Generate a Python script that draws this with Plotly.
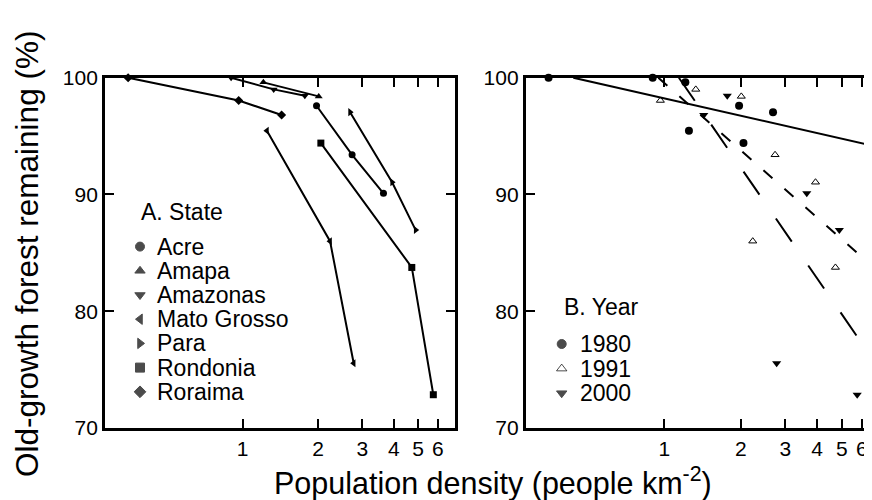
import numpy as np
import plotly.graph_objects as go

# ---------------- data ----------------
states = ["Acre", "Amapa", "Amazonas", "Mato Grosso", "Para", "Rondonia", "Roraima"]
density_1980 = [1.97, 1.21, 0.90, 1.25, 2.68, 2.05, 0.35]
density_1991 = [2.73, 2.01, 1.33, 2.23, 3.94, 4.72, 0.965]
density_2000 = [3.64, None, 1.77, 2.77, 4.89, 5.75, 1.43]
forest_1980 = [97.6, 99.6, 100.0, 95.45, 97.05, 94.4, 100.0]
forest_1991 = [93.4, 98.4, 99.0, 86.0, 91.05, 83.75, 98.05]
forest_2000 = [90.1, None, 98.45, 75.55, 86.95, 72.85, 96.8]
years = ["1980", "1991", "2000"]
x_ticks = [1, 2, 3, 4, 5, 6]
y_ticks = [70, 80, 90, 100]

# ---------------- styles ----------------
PAGE_W, PAGE_H = 872, 500
OFF = 8                      # default body margin of the page
W, H = PAGE_W - OFF, PAGE_H - OFF
FONT = "Liberation Sans, Arial, sans-serif"
state_symbols = ["circle", "triangle-up", "triangle-down", "triangle-left",
                 "triangle-right", "square", "diamond"]
year_symbols = ["circle", "triangle-up-open", "triangle-down"]
year_dash = ["solid", "12px,16px", "28px,29px"]

# pixel geometry of the panels (page pixels)
plot_top, plot_bot = 77.7, 428.0
A_left, A_right = 105.0, 455.0
B_left = 525.7
A_range = [-0.548, 0.846]
B_range = [-0.546, 0.818]

def px(x):
    return (x - OFF) / W

def py(y):
    return 1 - (y - OFF) / H

fig = go.Figure()

# ---------------- panel A: states ----------------
dens = [density_1980, density_1991, density_2000]
fors = [forest_1980, forest_1991, forest_2000]
for i, s in enumerate(states):
    xs = [d[i] for d in dens if d[i] is not None]
    ys = [f[i] for f in fors if f[i] is not None]
    fig.add_trace(go.Scatter(
        x=xs, y=ys, mode="lines+markers", name=s,
        line=dict(color="black", width=2),
        marker=dict(symbol=state_symbols[i], size=7, color="black"),
        cliponaxis=False, showlegend=False, xaxis="x", yaxis="y"))

# ---------------- panel B: years ----------------
for k, yr in enumerate(years):
    xs = [v for v in dens[k] if v is not None]
    ys = [v for v in fors[k] if v is not None]
    b, a = np.polyfit(np.log10(xs), ys, 1)
    x_start = 10 ** ((100 - a) / b)
    x_end = 10 ** A_range[1]
    lx = np.array([x_start, x_end])
    fig.add_trace(go.Scatter(
        x=lx, y=a + b * np.log10(lx), mode="lines",
        line=dict(color="black", width=2, dash=year_dash[k]),
        showlegend=False, xaxis="x2", yaxis="y2", hoverinfo="skip"))
    mk = dict(symbol=year_symbols[k], size=8 if k != 1 else 7, color="black")
    if k == 1:
        mk["line"] = dict(color="black", width=1)
    fig.add_trace(go.Scatter(
        x=xs, y=ys, mode="markers", name=yr, marker=mk,
        cliponaxis=False, showlegend=False, xaxis="x2", yaxis="y2"))

# ---------------- legends (pixel overlay) ----------------
A_leg_x, A_leg_title_y, A_leg_y0, A_leg_dy = 140.0, 211.7, 246.6, 24.2
B_leg_x, B_leg_title_y, B_leg_y0, B_leg_dy = 561.7, 306.7, 344.0, 24.6

leg_x = [A_leg_x] * len(states) + [B_leg_x] * len(years)
leg_y = [A_leg_y0 + i * A_leg_dy for i in range(len(states))] + \
        [B_leg_y0 + i * B_leg_dy for i in range(len(years))]
leg_sym = state_symbols + year_symbols
fig.add_trace(go.Scatter(
    x=leg_x, y=leg_y, mode="markers",
    marker=dict(symbol=leg_sym, size=[9] * len(states) + [9, 9, 9], color="black",
                line=dict(color="black", width=1)),
    cliponaxis=False, showlegend=False, xaxis="x3", yaxis="y3", hoverinfo="skip"))

LEG_FS = 23
annotations = []
annotations.append(dict(text="A. State", x=A_leg_x - 1, y=A_leg_title_y, xref="x3", yref="y3",
                        xanchor="left", yanchor="middle", showarrow=False,
                        font=dict(size=LEG_FS, family=FONT, color="black")))
for i, s in enumerate(states):
    annotations.append(dict(text=s, x=A_leg_x + 15, y=A_leg_y0 + i * A_leg_dy,
                            xref="x3", yref="y3", xanchor="left", yanchor="middle",
                            showarrow=False, font=dict(size=LEG_FS, family=FONT, color="black")))
annotations.append(dict(text="B. Year", x=B_leg_x, y=B_leg_title_y, xref="x3", yref="y3",
                        xanchor="left", yanchor="middle", showarrow=False,
                        font=dict(size=LEG_FS, family=FONT, color="black")))
for i, yr in enumerate(years):
    annotations.append(dict(text=yr, x=B_leg_x + 16, y=B_leg_y0 + i * B_leg_dy,
                            xref="x3", yref="y3", xanchor="left", yanchor="middle",
                            showarrow=False, font=dict(size=LEG_FS, family=FONT, color="black")))
# axis titles
annotations.append(dict(text="Population density (people km<sup>-2</sup>)", x=493, y=481,
                        xref="x3", yref="y3", xanchor="center", yanchor="middle",
                        showarrow=False, font=dict(size=30.5, family=FONT, color="black")))
annotations.append(dict(text="Old-growth forest remaining (%)", x=27, y=254,
                        xref="x3", yref="y3", xanchor="center", yanchor="middle",
                        textangle=-90, showarrow=False,
                        font=dict(size=31.5, family=FONT, color="black")))

# right-border ticks of panel B (border itself lies just outside the crop)
shapes = []
for t in y_ticks[1:-1]:
    shapes.append(dict(type="line", xref="paper", yref="y2", x0=px(864), x1=1.0, y0=t, y1=t,
                       line=dict(color="black", width=2)))

axis_common = dict(showgrid=False, zeroline=False, showline=True, linecolor="black",
                   linewidth=2.8, ticks="inside", ticklen=9, tickwidth=2, tickcolor="black",
                   mirror="ticks", automargin=False,
                   tickfont=dict(size=21, family=FONT, color="black"))

fig.update_layout(
    width=W, height=H,
    margin=dict(l=0, r=0, t=0, b=0, pad=0, autoexpand=False),
    paper_bgcolor="white", plot_bgcolor="rgba(0,0,0,0)",
    showlegend=False,
    xaxis=dict(type="log", range=A_range, domain=[px(A_left), px(A_right)], anchor="y",
               tickvals=x_ticks, ticktext=[str(v) for v in x_ticks], **axis_common),
    yaxis=dict(range=[70, 100], domain=[py(plot_bot), py(plot_top)], anchor="x",
               tickvals=y_ticks, **axis_common),
    xaxis2=dict(type="log", range=B_range, domain=[px(B_left), 1.0], anchor="y2",
                tickvals=x_ticks, ticktext=[str(v) for v in x_ticks], **axis_common),
    yaxis2=dict(range=[70, 100], domain=[py(plot_bot), py(plot_top)], anchor="x2",
                tickvals=y_ticks, **{**axis_common, "mirror": False}),
    xaxis3=dict(range=[OFF, PAGE_W], domain=[0, 1], anchor="y3", visible=False, fixedrange=True),
    yaxis3=dict(range=[PAGE_H, OFF], domain=[0, 1], anchor="x3", visible=False, fixedrange=True),
    annotations=annotations,
    shapes=shapes,
)

fig.write_html("out.html")
